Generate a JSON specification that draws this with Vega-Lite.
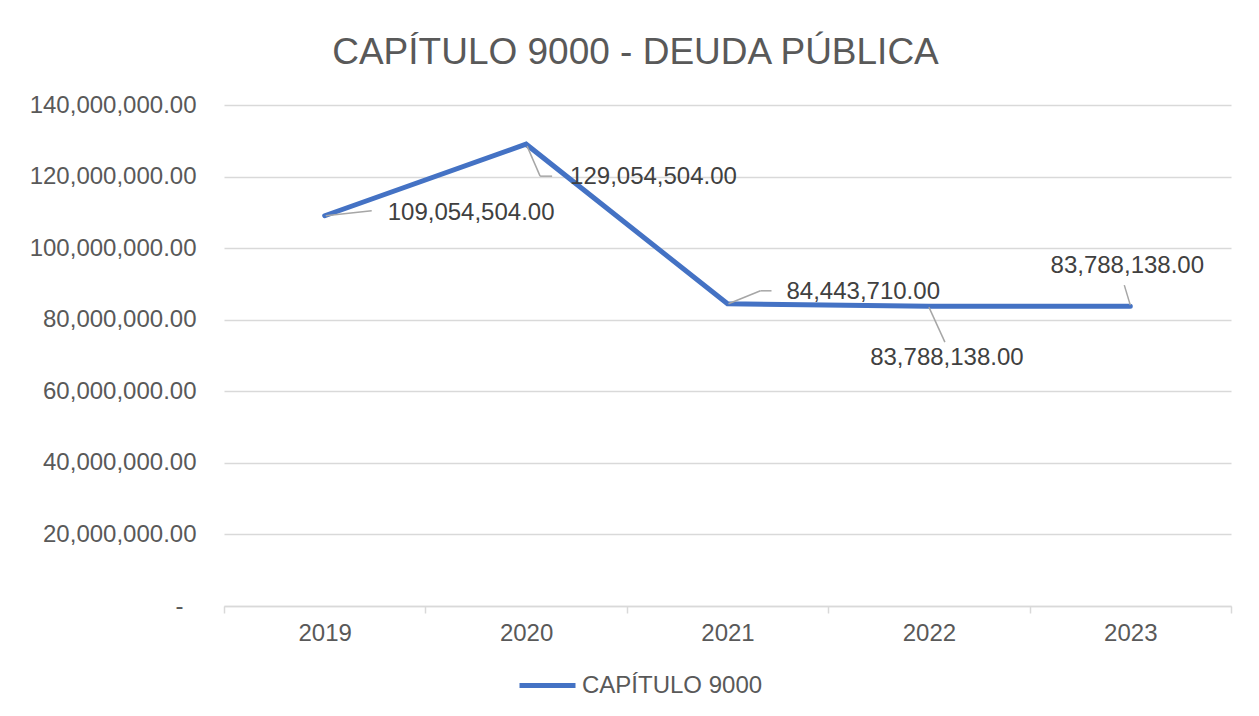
{
  "$schema": "https://vega.github.io/schema/vega-lite/v6.json",
  "width": 1007,
  "height": 501,
  "autosize": {"type": "none"},
  "padding": {"left": 224, "top": 105, "right": 28, "bottom": 110},
  "background": "white",
  "title": {
    "text": "CAPÍTULO 9000 - DEUDA PÚBLICA",
    "font": "Liberation Sans",
    "fontSize": 37,
    "fontWeight": "normal",
    "color": "#595959",
    "anchor": "middle",
    "frame": "group",
    "dx": -92,
    "baseline": "alphabetic",
    "offset": -8
  },
  "data": {
    "values": [
      {"year": "2019", "value": 109054504, "serie": "CAPÍTULO 9000"},
      {"year": "2020", "value": 129054504, "serie": "CAPÍTULO 9000"},
      {"year": "2021", "value": 84443710, "serie": "CAPÍTULO 9000"},
      {"year": "2022", "value": 83788138, "serie": "CAPÍTULO 9000"},
      {"year": "2023", "value": 83788138, "serie": "CAPÍTULO 9000"}
    ]
  },
  "encoding": {
    "x": {
      "field": "year",
      "type": "ordinal",
      "scale": {"type": "band", "paddingInner": 0, "paddingOuter": 0},
      "axis": {
        "title": null,
        "labelAngle": 0,
        "labelFont": "Liberation Sans",
        "labelFontSize": 24,
        "labelColor": "#595959",
        "labelPadding": 8,
        "domainColor": "#D9D9D9",
        "domainWidth": 1.5,
        "tickColor": "#D9D9D9",
        "tickWidth": 1.5,
        "tickSize": 7,
        "tickBand": "extent",
        "grid": false
      }
    },
    "y": {
      "field": "value",
      "type": "quantitative",
      "scale": {"domain": [0, 140000000], "nice": false},
      "axis": {
        "title": null,
        "values": [0, 20000000, 40000000, 60000000, 80000000, 100000000, 120000000, 140000000],
        "labelExpr": "datum.value == 0 ? '-' : format(datum.value, ',.2f')",
        "labelFont": "Liberation Sans",
        "labelFontSize": 24,
        "labelColor": "#595959",
        "labelPadding": {"condition": {"test": "datum.value == 0", "value": 41}, "value": 28},
        "domain": false,
        "ticks": false,
        "grid": true,
        "gridColor": "#D9D9D9",
        "gridWidth": 1.5
      }
    }
  },
  "layer": [
    {
      "mark": {"type": "line", "strokeWidth": 5, "strokeCap": "round"},
      "encoding": {
        "color": {
          "field": "serie",
          "type": "nominal",
          "scale": {"range": ["#4472C4"]},
          "legend": {
            "title": null,
            "orient": "none",
            "legendX": 293,
            "legendY": 550,
            "symbolType": "stroke",
            "symbolSize": 3136,
            "symbolStrokeWidth": 5,
            "labelFont": "Liberation Sans",
            "labelFontSize": 24,
            "labelColor": "#595959",
            "labelOffset": 4,
            "labelLimit": 0
          }
        }
      }
    },
    {
      "transform": [{"filter": "datum.year == '2019'"}],
      "mark": {"type": "rule", "color": "#A6A6A6", "strokeWidth": 1.5, "xOffset": 1, "yOffset": 0, "x2Offset": 47, "y2Offset": -5},
      "encoding": {"x2": {"field": "year", "bandPosition": 0.5}, "y2": {"field": "value"}}
    },
    {
      "transform": [{"filter": "datum.year == '2020'"}],
      "mark": {"type": "rule", "color": "#A6A6A6", "strokeWidth": 1.5, "xOffset": 1, "yOffset": 2, "x2Offset": 14, "y2Offset": 32},
      "encoding": {"x2": {"field": "year", "bandPosition": 0.5}, "y2": {"field": "value"}}
    },
    {
      "transform": [{"filter": "datum.year == '2020'"}],
      "mark": {"type": "rule", "color": "#A6A6A6", "strokeWidth": 1.5, "xOffset": 14, "yOffset": 32, "x2Offset": 26, "y2Offset": 32},
      "encoding": {"x2": {"field": "year", "bandPosition": 0.5}, "y2": {"field": "value"}}
    },
    {
      "transform": [{"filter": "datum.year == '2021'"}],
      "mark": {"type": "rule", "color": "#A6A6A6", "strokeWidth": 1.5, "xOffset": 1, "yOffset": 0, "x2Offset": 33, "y2Offset": -13},
      "encoding": {"x2": {"field": "year", "bandPosition": 0.5}, "y2": {"field": "value"}}
    },
    {
      "transform": [{"filter": "datum.year == '2021'"}],
      "mark": {"type": "rule", "color": "#A6A6A6", "strokeWidth": 1.5, "xOffset": 33, "yOffset": -13, "x2Offset": 44, "y2Offset": -13},
      "encoding": {"x2": {"field": "year", "bandPosition": 0.5}, "y2": {"field": "value"}}
    },
    {
      "transform": [{"filter": "datum.year == '2022'"}],
      "mark": {"type": "rule", "color": "#A6A6A6", "strokeWidth": 1.5, "xOffset": 0, "yOffset": 1, "x2Offset": 16, "y2Offset": 36},
      "encoding": {"x2": {"field": "year", "bandPosition": 0.5}, "y2": {"field": "value"}}
    },
    {
      "transform": [{"filter": "datum.year == '2023'"}],
      "mark": {"type": "rule", "color": "#A6A6A6", "strokeWidth": 1.5, "xOffset": 0, "yOffset": -1, "x2Offset": -6, "y2Offset": -21},
      "encoding": {"x2": {"field": "year", "bandPosition": 0.5}, "y2": {"field": "value"}}
    },
    {
      "transform": [{"filter": "datum.year == '2019'"}],
      "mark": {"type": "text", "font": "Liberation Sans", "fontSize": 24, "color": "#404040", "align": "left", "baseline": "middle", "dx": 63, "dy": -3},
      "encoding": {"text": {"field": "value", "type": "quantitative", "format": ",.2f"}}
    },
    {
      "transform": [{"filter": "datum.year == '2020'"}],
      "mark": {"type": "text", "font": "Liberation Sans", "fontSize": 24, "color": "#404040", "align": "left", "baseline": "middle", "dx": 44, "dy": 33},
      "encoding": {"text": {"field": "value", "type": "quantitative", "format": ",.2f"}}
    },
    {
      "transform": [{"filter": "datum.year == '2021'"}],
      "mark": {"type": "text", "font": "Liberation Sans", "fontSize": 24, "color": "#404040", "align": "left", "baseline": "middle", "dx": 59, "dy": -12},
      "encoding": {"text": {"field": "value", "type": "quantitative", "format": ",.2f"}}
    },
    {
      "transform": [{"filter": "datum.year == '2022'"}],
      "mark": {"type": "text", "font": "Liberation Sans", "fontSize": 24, "color": "#404040", "align": "center", "baseline": "middle", "dx": 18, "dy": 52},
      "encoding": {"text": {"field": "value", "type": "quantitative", "format": ",.2f"}}
    },
    {
      "transform": [{"filter": "datum.year == '2023'"}],
      "mark": {"type": "text", "font": "Liberation Sans", "fontSize": 24, "color": "#404040", "align": "center", "baseline": "middle", "dx": -3, "dy": -40},
      "encoding": {"text": {"field": "value", "type": "quantitative", "format": ",.2f"}}
    }
  ],
  "config": {
    "view": {"stroke": null},
    "font": "Liberation Sans"
  }
}
